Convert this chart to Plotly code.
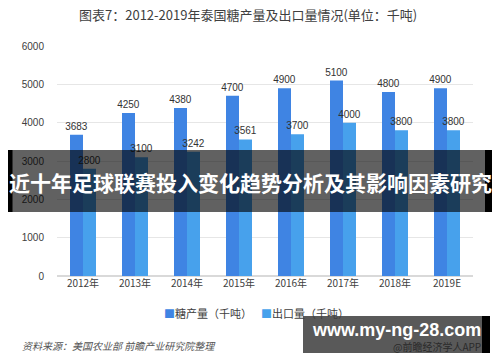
import plotly.graph_objects as go

years = ["2012年", "2013年", "2014年", "2015年", "2016年", "2017年", "2018年", "2019E"]
production = [3683, 4250, 4380, 4700, 4900, 5100, 4800, 4900]
exports = [2800, 3100, 3242, 3561, 3700, 4000, 3800, 3800]
series_names = ["糖产量（千吨）", "出口量（千吨）"]
colors = ["#3F84E3", "#47A1EC"]
y_ticks = [0, 1000, 2000, 3000, 4000, 5000, 6000]

W, H = 500, 362
L, R, T, B = 57, 27, 46, 86
pw, ph = W - L - R, H - T - B

def px(x):
    return (x - L) / pw

def py(y):
    return (H - B - y) / ph

font_cn = "Noto Sans CJK SC, Noto Sans, sans-serif"

fig = go.Figure()
for vals, name, col in [(production, series_names[0], colors[0]), (exports, series_names[1], colors[1])]:
    fig.add_trace(go.Bar(x=years, y=vals, name=name,
                         marker=dict(color=col, line=dict(width=0)),
                         text=[str(v) for v in vals], textposition="outside",
                         constraintext="none",
                         textfont=dict(size=10, color="#333333", family="Liberation Sans, sans-serif"),
                         cliponaxis=False, showlegend=False, hoverinfo="skip"))

shapes = [
    # banner
    dict(type="rect", xref="paper", yref="paper", x0=px(8), x1=px(492), y0=py(212), y1=py(150),
         fillcolor="rgba(0,0,0,0.62)", line=dict(width=0), layer="above"),
    dict(type="rect", xref="paper", yref="paper", x0=px(8), x1=px(12.5), y0=py(212), y1=py(150),
         fillcolor="#000000", line=dict(width=0), layer="above"),
    dict(type="rect", xref="paper", yref="paper", x0=px(485), x1=px(492), y0=py(212), y1=py(150),
         fillcolor="#000000", line=dict(width=0), layer="above"),
    # url box
    dict(type="rect", xref="paper", yref="paper", x0=px(303), x1=px(490), y0=py(353), y1=py(316),
         fillcolor="rgba(0,0,0,0.65)", line=dict(width=0), layer="above"),
    dict(type="rect", xref="paper", yref="paper", x0=px(482), x1=px(490), y0=py(353), y1=py(316),
         fillcolor="#000000", line=dict(width=0), layer="above"),
]

annotations = [
    dict(text="图表7：2012-2019年泰国糖产量及出口量情况(单位：千吨)", xref="paper", yref="paper",
         x=px(248), y=py(15), showarrow=False, xanchor="center", yanchor="middle",
         font=dict(size=13, color="#404040", family=font_cn)),
    dict(text=f"<span style='color:{colors[0]}'>■</span>{series_names[0]}", xref="paper", yref="paper",
         x=px(162), y=py(313), showarrow=False, xanchor="left", yanchor="middle",
         font=dict(size=11, color="#404040", family=font_cn)),
    dict(text=f"<span style='color:{colors[1]}'>■</span>{series_names[1]}", xref="paper", yref="paper",
         x=px(259), y=py(313), showarrow=False, xanchor="left", yanchor="middle",
         font=dict(size=11, color="#404040", family=font_cn)),
    dict(text="<i>资料来源：美国农业部 前瞻产业研究院整理</i>", xref="paper", yref="paper",
         x=px(20), y=py(345), showarrow=False, xanchor="left", yanchor="middle",
         font=dict(size=10, color="#555555", family=font_cn)),
    dict(text="@前瞻经济学人APP", xref="paper", yref="paper",
         x=px(483), y=py(346), showarrow=False, xanchor="right", yanchor="middle",
         font=dict(size=10, color="#2a2a2a", family=font_cn)),
    dict(text="<b>近十年足球联赛投入变化趋势分析及其影响因素研究</b>", xref="paper", yref="paper",
         x=px(250), y=py(182), showarrow=False, xanchor="center", yanchor="middle",
         font=dict(size=21, color="#ffffff", family=font_cn)),
    dict(text="<b>www.my-ng-28.com</b>", xref="paper", yref="paper",
         x=px(396), y=py(330), showarrow=False, xanchor="center", yanchor="middle",
         font=dict(size=18, color="#ffffff", family="Liberation Sans, Arial, sans-serif")),
]

fig.update_layout(
    width=W, height=H,
    margin=dict(l=L, r=R, t=T, b=B, pad=0, autoexpand=False),
    paper_bgcolor="white", plot_bgcolor="white",
    barmode="group", bargap=0.5, bargroupgap=0,
    showlegend=False, hovermode=False,
    shapes=shapes, annotations=annotations,
    font=dict(family=font_cn),
)
fig.update_xaxes(showgrid=False, showline=False, ticks="", automargin=False,
                 tickfont=dict(size=10, color="#404040", family=font_cn))
fig.update_yaxes(range=[0, 6000], tickvals=y_ticks, showgrid=True, gridcolor="#E6E6E6",
                 gridwidth=1, zeroline=True, zerolinecolor="#D9D9D9", showline=False,
                 ticks="", ticklabelstandoff=12, automargin=False,
                 tickfont=dict(size=10, color="#404040", family="Liberation Sans, sans-serif"))

fig.write_html("out.html", config={"displayModeBar": False, "staticPlot": True},
               post_script="document.body.style.margin='0';document.body.style.overflow='hidden';")
